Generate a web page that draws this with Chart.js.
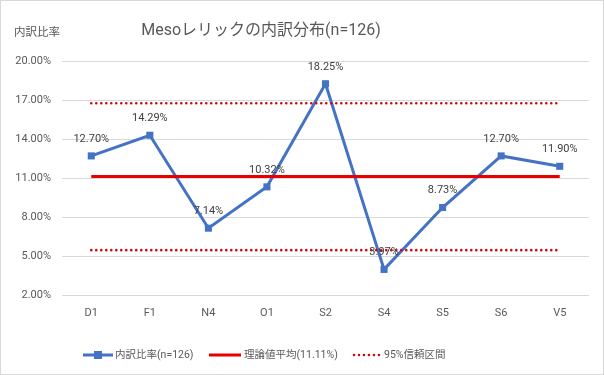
<!DOCTYPE html>
<html>
<head>
<meta charset="utf-8">
<script src="https://cdn.jsdelivr.net/npm/chart.js@4/dist/chart.umd.min.js"></script>
<style>
  html, body { margin: 0; padding: 0; background: #fff; }
  #wrap { position: relative; width: 604px; height: 375px; box-sizing: border-box; border: 1px solid #d9d9d9; }
  canvas { display: block; }
</style>
</head>
<body>
<div id="wrap"><canvas id="c" width="602" height="373"></canvas></div>
<script>
const categories = ['D1', 'F1', 'N4', 'O1', 'S2', 'S4', 'S5', 'S6', 'V5'];
const ratios = [12.70, 14.29, 7.14, 10.32, 18.25, 3.97, 8.73, 12.70, 11.90];
const theoryMean = [11.11, 11.11, 11.11, 11.11, 11.11, 11.11, 11.11, 11.11, 11.11];
const ciUpper = [16.75, 16.75, 16.75, 16.75, 16.75, 16.75, 16.75, 16.75, 16.75];
const ciLower = [5.45, 5.45, 5.45, 5.45, 5.45, 5.45, 5.45, 5.45, 5.45];
const seriesNames = ['内訳比率(n=126)', '理論値平均(11.11%)', '95%信頼区間'];
const chartTitle = 'Mesoレリックの内訳分布(n=126)';
const yAxisTitle = '内訳比率';

const FONT = 'Roboto, "Noto Sans CJK JP", sans-serif';
const BLUE = '#4472C4';
const RED = '#E60000';
const DOT_RED = '#CC0A0A';
const TXT = '#595959';

const overlay = {
  id: 'overlay',
  afterDatasetsDraw(chart) {
    const ctx = chart.ctx;
    const meta = chart.getDatasetMeta(0);
    ctx.save();
    ctx.fillStyle = '#404040';
    ctx.font = '11px ' + FONT;
    ctx.textAlign = 'center';
    ctx.textBaseline = 'middle';
    meta.data.forEach((pt, i) => {
      ctx.fillText(ratios[i].toFixed(2) + '%', pt.x, pt.y - 17);
    });
    ctx.restore();
  },
  afterDraw(chart) {
    const ctx = chart.ctx;
    ctx.save();
    // title
    ctx.fillStyle = TXT;
    ctx.textBaseline = 'middle';
    ctx.textAlign = 'center';
    ctx.font = '16px ' + FONT;
    ctx.fillText(chartTitle, 260, 30);
    // y axis title
    ctx.textAlign = 'left';
    ctx.font = '11.5px ' + FONT;
    ctx.fillText(yAxisTitle, 13, 32);
    // legend
    const ly = 354;
    ctx.font = '10.5px ' + FONT;
    // item 1
    ctx.strokeStyle = BLUE; ctx.lineWidth = 3; ctx.lineCap = 'butt';
    ctx.beginPath(); ctx.moveTo(82, ly); ctx.lineTo(112, ly); ctx.stroke();
    ctx.fillStyle = BLUE; ctx.fillRect(93, ly - 4, 8, 8);
    ctx.fillStyle = TXT;
    ctx.fillText(seriesNames[0], 114, ly);
    // item 2
    ctx.strokeStyle = RED; ctx.lineWidth = 3;
    ctx.beginPath(); ctx.moveTo(208, ly); ctx.lineTo(240, ly); ctx.stroke();
    ctx.fillText(seriesNames[1], 243, ly);
    // item 3
    ctx.strokeStyle = DOT_RED; ctx.lineWidth = 2.6; ctx.lineCap = 'round';
    ctx.setLineDash([0, 5]);
    ctx.beginPath(); ctx.moveTo(353, ly); ctx.lineTo(379, ly); ctx.stroke();
    ctx.setLineDash([]);
    ctx.fillText(seriesNames[2], 383, ly);
    ctx.restore();
  }
};

new Chart(document.getElementById('c'), {
  type: 'line',
  data: {
    labels: categories,
    datasets: [
      {
        label: seriesNames[0], data: ratios, order: 3,
        borderColor: BLUE, backgroundColor: BLUE, borderWidth: 3,
        pointStyle: 'rect', pointRadius: 5, pointBorderWidth: 0, tension: 0
      },
      {
        label: seriesNames[1], data: theoryMean, order: 1,
        borderColor: RED, borderWidth: 3, pointRadius: 0, borderCapStyle: 'butt'
      },
      {
        label: seriesNames[2], data: ciUpper, order: 1,
        borderColor: DOT_RED, borderWidth: 2.6, pointRadius: 0,
        borderDash: [0, 5], borderCapStyle: 'round'
      },
      {
        label: seriesNames[2] + ' ', data: ciLower, order: 1,
        borderColor: DOT_RED, borderWidth: 2.6, pointRadius: 0,
        borderDash: [0, 5], borderCapStyle: 'round'
      }
    ]
  },
  options: {
    responsive: false,
    animation: false,
    devicePixelRatio: 1,
    layout: { padding: { top: 60, right: 14, bottom: 0, left: 0 } },
    plugins: { legend: { display: false }, title: { display: false }, tooltip: { enabled: false } },
    scales: {
      x: {
        offset: true,
        grid: { display: false, drawTicks: false },
        border: { display: false },
        ticks: { color: TXT, font: { family: FONT, size: 11 }, padding: 12, maxRotation: 0 },
        afterFit(s) { s.height = 79; }
      },
      y: {
        min: 2, max: 20,
        grid: { color: '#d9d9d9', drawTicks: false, lineWidth: 1 },
        border: { display: false },
        ticks: {
          stepSize: 3, color: TXT, font: { family: FONT, size: 11 }, padding: 11,
          callback: v => v.toFixed(2) + '%'
        },
        afterFit(s) { s.width = 61; }
      }
    }
  },
  plugins: [overlay]
});
</script>
</body>
</html>
